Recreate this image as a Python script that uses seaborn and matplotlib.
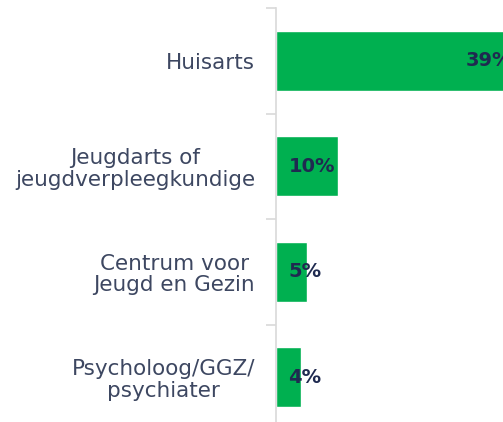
import matplotlib
matplotlib.use('Agg')
import matplotlib.pyplot as plt
import seaborn as sns
import pandas as pd

categories = ['Huisarts', 'Jeugdarts of\njeugdverpleegkundige',
              'Centrum voor\nJeugd en Gezin', 'Psycholoog/GGZ/\npsychiater']
values = [39, 10, 5, 4]
labels = ['39%', '10%', '5%', '4%']

df = pd.DataFrame({'cat': categories, 'val': values})

sns.set_style('white')
plt.rcParams['font.family'] = ['DejaVu Sans']

fig = plt.figure(figsize=(5.03, 4.22), dpi=100)
ax = fig.add_axes([276/503, -8/422, 227/503, 422/422])

sns.barplot(data=df, x='val', y='cat', orient='h', color='#00b050',
            saturation=1, width=0.57, ax=ax)

ax.set_xlim(0, 227/6.2)
ax.set_ylim(3.5, -0.5)
ax.set_xlabel('')
ax.set_ylabel('')
ax.set_xticks([])

# category labels, separators as minor ticks
ax.tick_params(axis='y', which='major', left=True, length=0, pad=15)
for t in ax.get_yticklabels():
    t.set_horizontalalignment('right')
    t.set_multialignment('center')
    t.set_fontsize(15.5)
    t.set_color('#3d4761')
    t.set_linespacing(1.1)
ax.set_yticks([-0.5, 0.5, 1.5, 2.5], minor=True)
ax.tick_params(axis='y', which='minor', left=True, length=7,
               color='#d9d9d9', width=1.2)

for s in ['top', 'right', 'bottom']:
    ax.spines[s].set_visible(False)
ax.spines['left'].set_color('#d9d9d9')
ax.spines['left'].set_linewidth(1.2)

for i, (v, lab) in enumerate(zip(values, labels)):
    ax.text(max(v - 8.4, 2.0), i, lab, ha='left', va='center',
            fontsize=14, fontweight='bold', color='#1f2a50', clip_on=False)

fig.savefig('out.png', dpi=100)
